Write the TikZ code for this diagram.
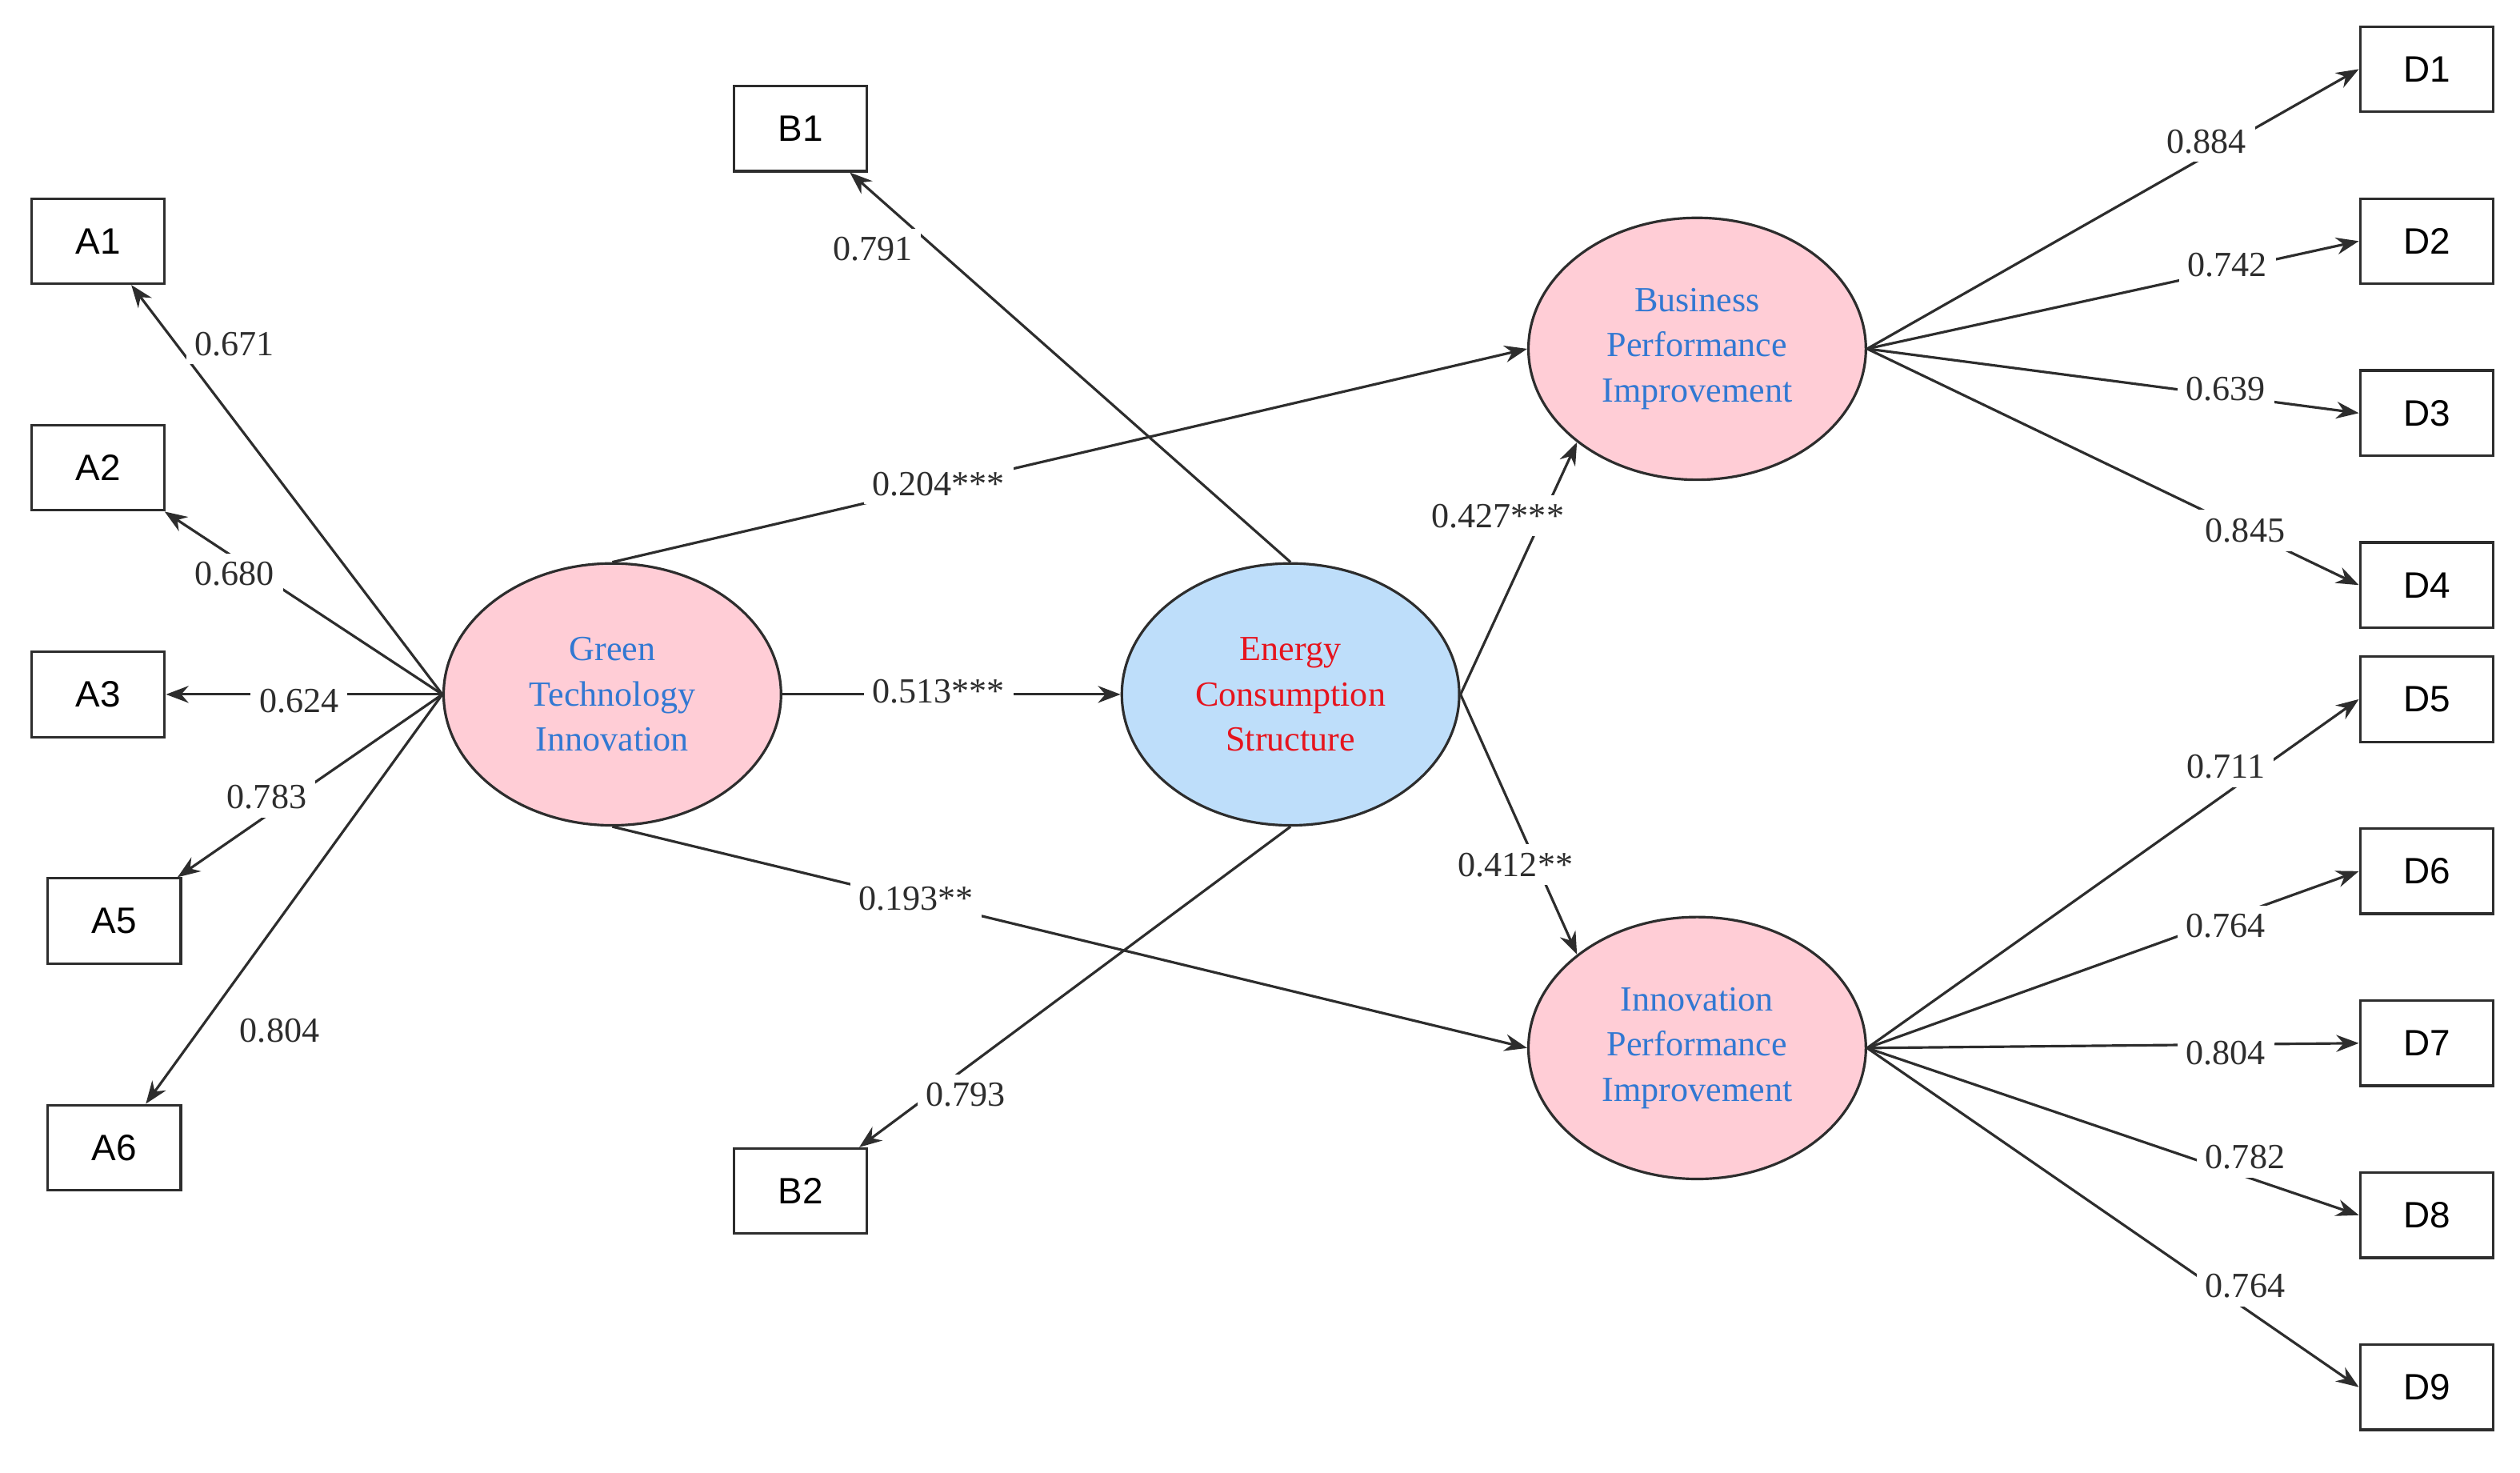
\documentclass[tikz,border=0pt]{standalone}
\usepackage{fontspec}
\setmainfont{Liberation Serif}
\newfontfamily\boxfont{Liberation Sans}
\usetikzlibrary{arrows.meta}
\definecolor{lc}{RGB}{45,45,45}
\definecolor{pinkf}{RGB}{255,205,214}
\definecolor{bluef}{RGB}{190,222,250}
\definecolor{blt}{RGB}{50,120,210}
\definecolor{redt}{RGB}{230,20,30}
\begin{document}
\begin{tikzpicture}[x=0.02cm,y=-0.02cm,
  ind/.style={draw=lc,line width=0.9pt,minimum width=1.66cm,minimum height=1.06cm,font=\boxfont\fontsize{13}{15}\selectfont,inner sep=0},
  lat/.style={ellipse,draw=lc,line width=0.9pt,minimum width=4.2cm,minimum height=3.26cm,align=center,font=\fontsize{12.5}{16}\selectfont,text=blt,fill=pinkf,inner sep=0},
  con/.style={draw=lc,line width=0.9pt,-{Stealth[length=8pt,width=6pt]}},
  lab/.style={fill=white,font=\fontsize{12.5}{14}\selectfont,text=lc,inner sep=3pt}]
\useasboundingbox (0,0) rectangle (1568,916);
\usetikzlibrary{shapes.geometric}
\node[ind] (A1) at (61,150) {A1};
\node[ind] (A2) at (61,291) {A2};
\node[ind] (A3) at (61,432) {A3};
\node[ind] (A5) at (71,573) {A5};
\node[ind] (A6) at (71,714) {A6};
\node[ind] (B1) at (498,80) {B1};
\node[ind] (B2) at (498,741) {B2};
\foreach \n/\y in {1/43,2/150,3/257,4/364,5/435,6/542,7/649,8/756,9/863}
  \node[ind] (D\n) at (1510,\y) {D\n};
\node[lat] (G) at (381,432) {Green\\Technology\\Innovation};
\node[lat,fill=bluef,text=redt] (E) at (803,432) {Energy\\Consumption\\Structure};
\node[lat] (P) at (1056,217) {Business\\Performance\\Improvement};
\node[lat] (I) at (1056,652) {Innovation\\Performance\\Improvement};
\foreach \a in {A1,A2,A3,A5,A6} \draw[con] (G.west) -- (\a);
\draw[con] (E.north) -- (B1);
\draw[con] (E.south) -- (B2);
\foreach \d in {1,2,3,4} \draw[con] (P.east) -- (D\d.west);
\foreach \d in {5,6,7,8,9} \draw[con] (I.east) -- (D\d.west);
\draw[con] (G.north) -- (P.west);
\draw[con] (G.east) -- (E.west);
\draw[con] (G.south) -- (I.west);
\draw[con] (E.east) -- (P.south west);
\draw[con] (E.east) -- (I.north west);
\node[lab] (l1) at (146,214) {0.671};
\node[lab] (l2) at (146,357) {0.680};
\node[lab] (l3) at (186,436) {0.624};
\node[lab] (l4) at (166,496) {0.783};
\node[lab] (l5) at (174,641) {0.804};
\node[lab] (l6) at (543,155) {0.791};
\node[lab] (l7) at (601,681) {0.793};
\node[lab] (l8) at (584,301) {0.204***};
\node[lab] (l9) at (584,430) {0.513***};
\node[lab] (l10) at (570,559) {0.193**};
\node[lab] (l11) at (932,321) {0.427***};
\node[lab] (l12) at (943,538) {0.412**};
\node[lab] (m1) at (1373,88) {0.884};
\node[lab] (m2) at (1386,165) {0.742};
\node[lab] (m3) at (1385,242) {0.639};
\node[lab] (m4) at (1397,330) {0.845};
\node[lab] (m5) at (1385,477) {0.711};
\node[lab] (m6) at (1385,576) {0.764};
\node[lab] (m7) at (1385,655) {0.804};
\node[lab] (m8) at (1397,720) {0.782};
\node[lab] (m9) at (1397,800) {0.764};
\end{tikzpicture}
\end{document}
